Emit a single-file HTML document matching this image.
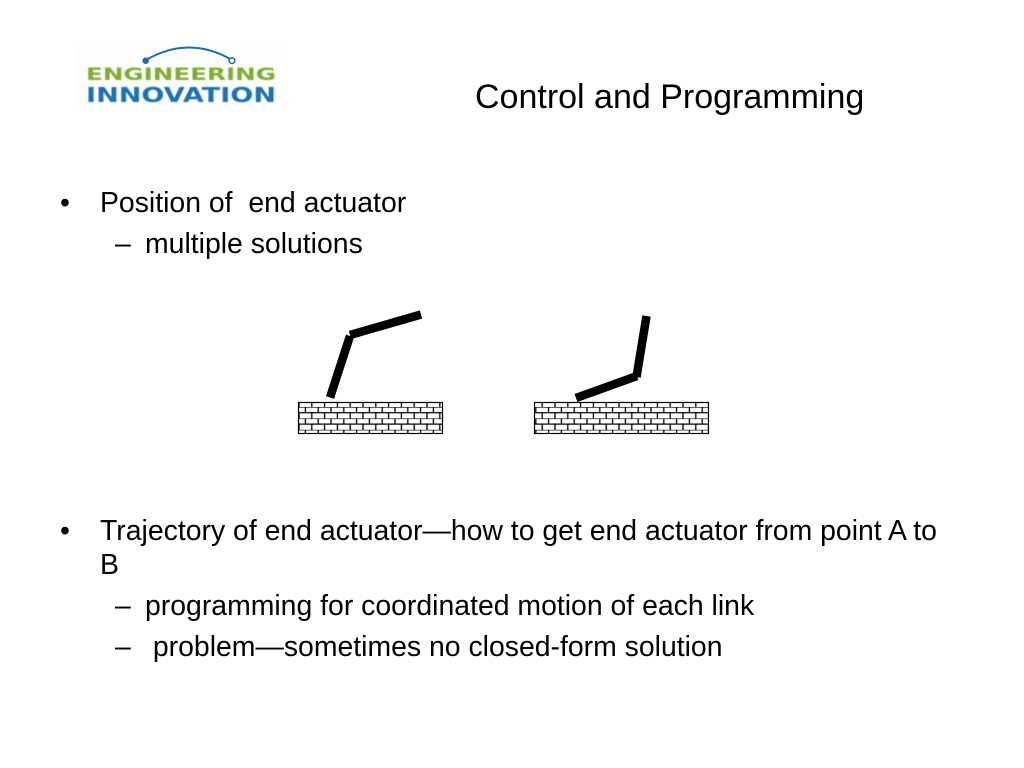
<!DOCTYPE html>
<html><head><meta charset="utf-8"><style>
html,body{margin:0;padding:0;background:#fff}
body{width:1024px;height:768px;position:relative;overflow:hidden;font-family:"Liberation Sans",sans-serif;color:#000}
.t{position:absolute;white-space:pre;line-height:1}
.b{font-size:28.4px}
.s{font-size:28.4px}
svg{position:absolute;left:0;top:0}
</style></head><body>
<svg width="1024" height="768" viewBox="0 0 1024 768">
<defs>
<pattern id="br" x="299" y="407" width="12.8" height="11.4" patternUnits="userSpaceOnUse">
<rect width="12.8" height="11.4" fill="#fff"/>
<path d="M0 0H12.800M0 5.700H12.800M6.400 0V5.700M0 5.700V11.400M12.800 5.700V11.400" stroke="#000" stroke-width="1.300" fill="none"/>
</pattern>
<filter id="soft" x="0" y="0" width="100%" height="100%"><feGaussianBlur stdDeviation="0.4"/></filter>
</defs>
<rect x="76" y="43" width="206" height="67" fill="#fdfdfd"/>
<path d="M146 60Q189 35 232 60" fill="none" stroke="#1d6fa8" stroke-width="2"/>
<circle cx="145.700" cy="60.700" r="3.300" fill="#1d6fa8"/>
<circle cx="232" cy="60.700" r="2.800" fill="#fff" stroke="#1d6fa8" stroke-width="1.600"/>
<g filter="url(#soft)">
<text x="86" y="80" font-family="'DejaVu Sans',sans-serif" font-weight="700" font-size="16.500" fill="#7fae2e" textLength="190" lengthAdjust="spacingAndGlyphs">ENGINEERING</text>
<text x="86" y="102" font-family="'DejaVu Sans',sans-serif" font-weight="700" font-size="20.500" fill="#1c72b4" textLength="190" lengthAdjust="spacingAndGlyphs">INNOVATION</text>
</g>
<rect x="298.500" y="402.500" width="144" height="31" fill="url(#br)" stroke="#000" stroke-width="1.200"/>
<rect x="534.500" y="402.500" width="174" height="31" fill="url(#br)" stroke="#000" stroke-width="1.200"/>
<g fill="none" stroke="#000" stroke-width="8.500">
<path d="M330 397.500L350 336"/>
<path d="M350 335L421 314.500"/>
<path d="M636.500 377L646.500 316"/>
<path d="M576 398L637 376"/>
</g>
</svg>
<div class="t" style="left:475px;top:79.500px;font-size:34px">Control and Programming</div>
<div class="t b" style="left:60px;top:188.500px">•</div>
<div class="t b" style="left:100px;top:188.500px">Position of  end actuator</div>
<div class="t s" style="left:115px;top:229.500px">–</div>
<div class="t s" style="left:145px;top:229.500px">multiple solutions</div>
<div class="t b" style="left:60px;top:516.500px">•</div>
<div class="t b" style="left:100px;top:516.500px">Trajectory of end actuator—how to get end actuator from point A to</div>
<div class="t b" style="left:100px;top:550.500px">B</div>
<div class="t s" style="left:115px;top:591.500px">–</div>
<div class="t s" style="left:145px;top:591.500px">programming for coordinated motion of each link</div>
<div class="t s" style="left:115px;top:632.500px">–</div>
<div class="t s" style="left:145px;top:632.500px"> problem—sometimes no closed-form solution</div>
</body></html>
